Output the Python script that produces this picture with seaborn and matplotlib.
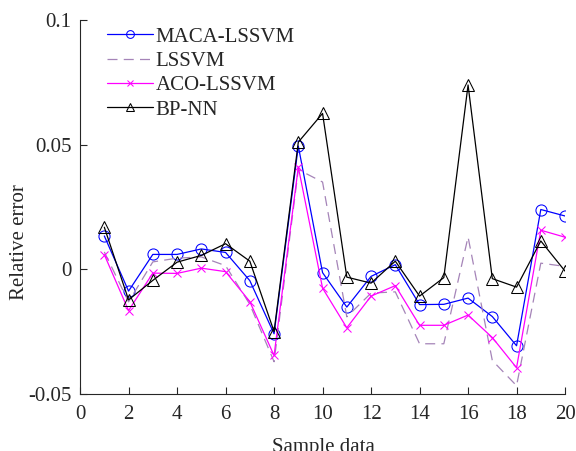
import numpy as np
import pandas as pd
import matplotlib
matplotlib.use("Agg")
import matplotlib.pyplot as plt
import seaborn as sns

samples = list(range(1, 21))
maca_lssvm = [0.0134, -0.0087, 0.006, 0.006, 0.0082, 0.0068, -0.0045, -0.0258, 0.0494, -0.0013,
              -0.0151, -0.0028, 0.0019, -0.0141, -0.014, -0.0115, -0.0189, -0.0306, 0.024, 0.0214]
lssvm = [0.007, -0.013, 0.003, 0.0045, 0.005, 0.0015, -0.014, -0.037, 0.04, 0.035,
         -0.019, -0.0095, -0.009, -0.0298, -0.0298, 0.013, -0.0365, -0.0466, 0.0025, 0.0012]
aco_lssvm = [0.0059, -0.0165, -0.0015, -0.0016, 0.0005, -0.0009, -0.0129, -0.0345, 0.041, -0.0075,
             -0.0234, -0.0107, -0.0065, -0.0224, -0.0224, -0.0183, -0.0273, -0.0394, 0.0157, 0.0129]
bp_nn = [0.0169, -0.0122, -0.0044, 0.0029, 0.0056, 0.0103, 0.0033, -0.0249, 0.051, 0.0625,
         -0.0031, -0.0055, 0.0033, -0.0107, -0.0033, 0.0739, -0.0037, -0.0071, 0.0114, -0.0007]

series = {"MACA-LSSVM": maca_lssvm, "LSSVM": lssvm, "ACO-LSSVM": aco_lssvm, "BP-NN": bp_nn}
styles = {
    "MACA-LSSVM": dict(color="#0000ff", marker="o", markersize=8, markerfacecolor="none", markeredgecolor="#0000ff"),
    "LSSVM": dict(color="#a584b8", linestyle=(0, (8, 5))),
    "ACO-LSSVM": dict(color="#ff00ff", marker="x", markersize=6, markeredgecolor="#ff00ff"),
    "BP-NN": dict(color="black", marker="^", markersize=9, markerfacecolor="none", markeredgecolor="black"),
}

sns.set_style("ticks")
plt.rcParams["font.family"] = ["Liberation Serif", "DejaVu Serif"]

fig = plt.figure(figsize=(5.76, 4.51), dpi=100)
ax = fig.add_axes([0.139, 0.126, 0.842, 0.830])

for name, vals in series.items():
    df = pd.DataFrame({"sample": samples, "err": vals})
    sns.lineplot(data=df, x="sample", y="err", ax=ax, label=name, linewidth=0.9, **styles[name])

ax.set_xlim(0, 20)
ax.set_ylim(-0.05, 0.1)
ax.set_xticks(range(0, 21, 2))
ax.set_yticks([-0.05, 0, 0.05, 0.1])
ax.set_yticklabels(["-0.05", "0", "0.05", "0.1"])
ax.tick_params(direction="in", labelsize=15, length=5, width=0.8)
ax.tick_params(axis="x", pad=8)
ax.tick_params(axis="y", pad=6)
for s in ["top", "right"]:
    ax.spines[s].set_visible(False)
for s in ["left", "bottom"]:
    ax.spines[s].set_linewidth(0.8)
ax.set_xlabel("Sample data", fontsize=15)
ax.set_ylabel("Relative error", fontsize=15)
ax.xaxis.set_label_coords(0.502, -0.116)
ax.yaxis.set_label_coords(-0.105, 0.406)
ax.legend(loc="upper left", frameon=False, fontsize=15, handlelength=2.2, markerscale=0.7,
          labelspacing=0.23, borderaxespad=0.3, handletextpad=0.15, bbox_to_anchor=(0.025, 1.02))

fig.savefig("out.png", dpi=100)
